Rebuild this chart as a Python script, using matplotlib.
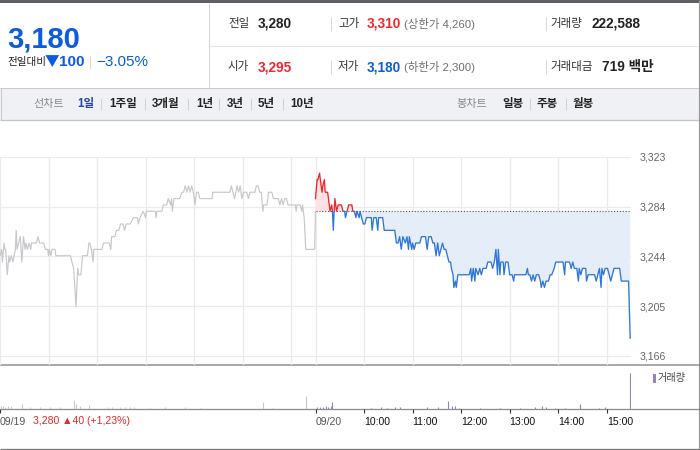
import matplotlib
matplotlib.use('Agg')
import matplotlib.pyplot as plt
from matplotlib.patches import Rectangle
from matplotlib import font_manager
import numpy as np

# ---------------- data ----------------
prev_close = 3280
price_now = "3,180"
change_abs = "100"
change_pct = "−3.05%"

# previous day (09/19), minutes after 09:00
prev_t = [0, 2, 3, 5, 6, 7, 9, 11, 12, 14,
          16, 19, 20, 21, 23, 25, 26, 27, 29, 31,
          32, 34, 36, 38, 39, 45, 47, 49, 54, 56,
          59, 60, 61, 63, 64, 68, 69, 80, 87, 89,
          91, 94, 96, 97, 100, 102, 108, 110, 111, 113,
          115, 116, 126, 128, 135, 137, 138, 142, 144, 147,
          149, 152, 154, 156, 161, 165, 170, 171, 173, 177,
          180, 181, 192, 193, 194, 200, 202, 206, 208, 211,
          212, 213, 215, 222, 225, 227, 229, 231, 233, 235,
          237, 239, 241, 243, 245, 247, 262, 263, 284, 286,
          288, 290, 293, 295, 297, 299, 301, 305, 307, 309,
          315, 317, 319, 321, 323, 325, 326, 330, 332, 336,
          338, 344, 346, 348, 350, 352, 354, 356, 365, 366,
          367, 371, 373, 374, 376, 378, 389, 390]
prev_p = [3245, 3250, 3240, 3255, 3250, 3250, 3230, 3245, 3240, 3245,
          3240, 3250, 3265, 3250, 3255, 3260, 3250, 3240, 3260, 3250,
          3255, 3250, 3255, 3250, 3255, 3255, 3260, 3255, 3255, 3250,
          3250, 3245, 3250, 3245, 3250, 3250, 3245, 3245, 3245, 3240,
          3235, 3205, 3235, 3230, 3230, 3245, 3245, 3255, 3255, 3250,
          3240, 3250, 3250, 3255, 3255, 3250, 3260, 3260, 3265, 3265,
          3270, 3270, 3265, 3270, 3270, 3275, 3275, 3270, 3275, 3280,
          3275, 3280, 3280, 3275, 3280, 3280, 3285, 3285, 3290, 3285,
          3290, 3280, 3290, 3290, 3295, 3295, 3300, 3295, 3300, 3295,
          3300, 3295, 3285, 3295, 3295, 3290, 3290, 3295, 3295, 3300,
          3295, 3290, 3300, 3295, 3300, 3290, 3295, 3295, 3290, 3295,
          3295, 3300, 3300, 3295, 3295, 3280, 3285, 3285, 3295, 3295,
          3290, 3290, 3285, 3290, 3285, 3290, 3290, 3285, 3285, 3280,
          3285, 3285, 3280, 3285, 3275, 3250, 3250, 3280]

# today (09/20), minutes after 09:00
today_t = [0, 2, 3, 5, 6, 8, 9, 11, 12, 15,
           17, 18, 20, 21, 22, 23, 24, 26, 28, 32,
           34, 36, 37, 39, 41, 45, 46, 48, 50, 51,
           54, 55, 57, 59, 61, 63, 69, 70, 72, 75,
           77, 78, 83, 84, 85, 98, 100, 102, 104, 106,
           108, 111, 113, 115, 116, 119, 120, 122, 124, 129,
           131, 136, 138, 140, 143, 145, 147, 149, 151, 153,
           155, 157, 159, 161, 163, 165, 167, 168, 170, 171,
           173, 174, 176, 190, 192, 193, 195, 197, 198, 201,
           203, 205, 207, 211, 213, 217, 219, 221, 223, 225,
           226, 228, 229, 232, 233, 235, 238, 240, 243, 245,
           246, 260, 262, 263, 265, 267, 269, 271, 273, 276,
           278, 279, 281, 283, 285, 288, 290, 292, 295, 297,
           306, 308, 309, 314, 316, 318, 320, 323, 325, 326,
           328, 330, 334, 335, 337, 345, 347, 349, 351, 353,
           354, 356, 358, 361, 363, 365, 369, 376, 378, 387,
           389]
today_p = [3290, 3305, 3305, 3310, 3305, 3295, 3300, 3305, 3295, 3295,
           3285, 3280, 3285, 3280, 3265, 3280, 3290, 3280, 3285, 3285,
           3280, 3280, 3275, 3280, 3285, 3285, 3280, 3280, 3275, 3280,
           3275, 3280, 3275, 3270, 3270, 3275, 3275, 3265, 3275, 3275,
           3265, 3275, 3275, 3270, 3265, 3265, 3255, 3255, 3260, 3250,
           3260, 3255, 3260, 3250, 3260, 3250, 3255, 3250, 3255, 3255,
           3260, 3260, 3250, 3260, 3260, 3255, 3255, 3245, 3255, 3245,
           3250, 3255, 3250, 3250, 3245, 3240, 3240, 3235, 3230, 3220,
           3225, 3220, 3230, 3230, 3235, 3225, 3235, 3225, 3235, 3230,
           3235, 3230, 3235, 3235, 3240, 3240, 3235, 3240, 3250, 3230,
           3250, 3230, 3240, 3240, 3230, 3240, 3240, 3230, 3230, 3225,
           3230, 3230, 3235, 3230, 3230, 3225, 3230, 3225, 3230, 3230,
           3225, 3220, 3225, 3220, 3225, 3225, 3230, 3230, 3235, 3240,
           3240, 3230, 3240, 3240, 3235, 3240, 3235, 3235, 3225, 3235,
           3230, 3235, 3235, 3225, 3230, 3230, 3225, 3230, 3235, 3220,
           3235, 3230, 3235, 3235, 3230, 3225, 3235, 3235, 3225, 3225,
           3180]

vol_prev_t = [1, 4, 6, 10, 14, 27, 37, 49, 62, 74, 91, 94, 99, 110, 133, 138,
              148, 154, 161, 166, 185, 204, 229, 247, 325, 336, 378]
vol_prev_v = [2500, 3000, 2000, 2500, 3000, 4700, 1500, 1500, 1500, 2000, 9000,
              4500, 2500, 3700, 2000, 1500, 2000, 1500, 2000, 1500, 1000, 2000,
              1500, 1000, 6700, 1000, 12700]
vol_today_t = [2, 5, 9, 13, 16, 19, 21, 68, 81, 88, 98, 104, 138, 151, 164, 169,
               172, 178, 203, 228, 253, 271, 280, 285, 296, 308, 327, 351, 358, 389]
vol_today_v = [2000, 1500, 1500, 2500, 1500, 2500, 6500, 1000, 2000, 1000, 1500,
               1500, 1500, 2000, 7300, 2500, 3000, 1000, 1000, 1000, 1000, 1500,
               3000, 1500, 1000, 1000, 4700, 1000, 1500, 36000]

y_ticks = [3166, 3205.25, 3244.5, 3283.75, 3323]
y_labels = ['3,166', '3,205', '3,244', '3,284', '3,323']
grid_minutes = [0, 60, 120, 180, 240, 300, 360, 390, 450, 510, 570, 630, 690, 750]
x_tick_minutes = [0, 390, 450, 510, 570, 630, 690, 750]
x_tick_labels = ['09/19', '09/20', '10:00', '11:00', '12:00', '13:00', '14:00', '15:00']
prev_day_note = "3,280 ▲40 (+1,23%)"

row1 = [("전일", None), ("3,280", 'k'), ("고가", None), ("3,310", 'r'),
        ("(상한가 4,260)", 'g'), ("거래량", None), ("222,588", 'k')]
row2 = [("시가", None), ("3,295", 'r'), ("저가", None), ("3,180", 'b'),
        ("(하한가 2,300)", 'g'), ("거래대금", None), ("719 백만", 'k')]
tabs_left = ['선차트', '1일', '1주일', '3개월', '1년', '3년', '5년', '10년']
tabs_right = ['봉차트', '일봉', '주봉', '월봉']

# ---------------- style ----------------
FAM = ['Liberation Sans', 'Noto Sans CJK KR', 'DejaVu Sans']
plt.rcParams['font.family'] = FAM
names = {f.name for f in font_manager.fontManager.ttflist}
BIG = (['Liberation Sans Narrow'] if 'Liberation Sans Narrow' in names else ['Liberation Sans']) + FAM[1:]
BIG_SIZE = 24 if 'Liberation Sans Narrow' in names else 21

RED = '#f0272b'
BLUE = '#0b5ddc'
LINE_BLUE = '#2f76da'
W, H = 700, 450
PX = 0.72  # points per pixel

fig = plt.figure(figsize=(7, 4.5), dpi=100)
bg = fig.add_axes([0, 0, 1, 1], zorder=0)
bg.set_xlim(0, W)
bg.set_ylim(H, 0)
bg.axis('off')


def hline(y, x0, x1, c, lw=1.0):
    bg.plot([x0, x1], [y, y], color=c, lw=lw * PX, solid_capstyle='butt')


def vline(x, y0, y1, c, lw=1.0):
    bg.plot([x, x], [y0, y1], color=c, lw=lw * PX, solid_capstyle='butt')


# header
bg.add_patch(Rectangle((0, 0), W, 3, color='#5f6065', lw=0))
vline(208.5, 3, 88, '#d4d4d4')
hline(45.5, 208, W, '#e4e4e4')
bg.text(7, 47, price_now, fontsize=BIG_SIZE, fontweight='bold', color=BLUE,
        family=BIG, va='baseline', ha='left')
bg.text(7, 62.5, "전일대비", fontsize=7.6, color='#222', va='center', ha='left')
bg.text(45, 62.5, "▼", fontsize=10.5, color=BLUE, va='center', ha='left',
        family=['Noto Sans CJK KR', 'DejaVu Sans'])
bg.text(59, 62.5, change_abs, fontsize=11, fontweight='bold', color=BLUE,
        va='center', ha='left')
vline(89.5, 56, 69, '#d8d8d8')
bg.text(96, 62.5, change_pct, fontsize=11, color=BLUE, va='center', ha='left')

col_x = [228, 258, 338, 367, 404, 550, 591]
colmap = {None: '#333333', 'k': '#222222', 'r': RED, 'b': BLUE, 'g': '#707070'}
for row, yy in ((row1, 24), (row2, 67)):
    for i, (s, c) in enumerate(row):
        x = col_x[i]
        if s.startswith('719'):
            x = 602
        weight = 'bold' if c in ('k', 'r', 'b') else 'normal'
        fs = 9.8 if c in ('k', 'r', 'b') else (8.3 if c is None else 8.2)
        bg.text(x, yy, s, fontsize=fs, fontweight=weight, color=colmap[c],
                va='center', ha='left')
    vline(330.5, yy - 7, yy + 7, '#d8d8d8')
    vline(545.5, yy - 7, yy + 7, '#d8d8d8')

# tab bar
bg.add_patch(Rectangle((0, 88), W, 31.5, color='#eff1f5', lw=0))
hline(88, 0, W, '#c9c9c9')
hline(119.5, 0, W, '#c6c6c6', 1.3)
vline(0.5, 88, 120, '#c9c9c9')
tab_x = [33, 77, 109, 152, 196, 227, 258, 290]
sep_x = [101, 144.5, 187.5, 219, 251, 283]
for s, x in zip(tabs_left, tab_x):
    if s == '선차트':
        bg.text(x, 103.5, s, fontsize=8, color='#888888', va='center', ha='left')
    elif s == '1일':
        bg.text(x, 103.5, s, fontsize=8.3, color='#27449f', fontweight='bold',
                va='center', ha='left')
    else:
        bg.text(x, 103.5, s, fontsize=8.3, color='#222222', fontweight='bold',
                va='center', ha='left')
for x in sep_x:
    vline(x, 98, 110, '#cfd1d6')
rtab_x = [456, 502, 537, 573]
for s, x in zip(tabs_right, rtab_x):
    if s == '봉차트':
        bg.text(x, 103.5, s, fontsize=8, color='#888888', va='center', ha='left')
    else:
        bg.text(x, 103.5, s, fontsize=8.3, color='#222222', fontweight='bold',
                va='center', ha='left')
for x in (529.5, 565.5):
    vline(x, 98, 110, '#cfd1d6')

# frame lines of chart region
vline(699.3, 0, H, '#9a9a9a', 1.2)
hline(365, 0, W, '#8e8e8e', 1.5)
hline(408.5, 0, W, '#8e8e8e', 1.3)
hline(449, 0, W, '#7a7a7a', 1.3)

# ---------------- price axes ----------------
top_px, tick_bottom_px, ax_bottom_px, right_px = 156.7, 356.0, 365.0, 631.0
ppw = (tick_bottom_px - top_px) / (y_ticks[-1] - y_ticks[0])
ax = fig.add_axes([0, 1 - ax_bottom_px / H, right_px / W, (ax_bottom_px - top_px) / H],
                  zorder=2)
ax.set_facecolor('none')
ax.set_xlim(0, 780)
ax.set_ylim(y_ticks[0] - (ax_bottom_px - tick_bottom_px) / ppw, y_ticks[-1])
for s in ax.spines.values():
    s.set_visible(False)
ax.set_xticks(grid_minutes)
ax.set_yticks(y_ticks)
ax.set_yticklabels(y_labels)
ax.yaxis.tick_right()
ax.tick_params(axis='both', length=0, labelbottom=False, labelleft=False,
               labelright=True, labelsize=7.6, labelcolor='#666666', pad=6.5)
ax.grid(True, color='#ebebed', lw=0.9)
ax.set_axisbelow(True)

tp = np.array(prev_t, dtype=float)
pp = np.array(prev_p, dtype=float)
tt = np.array(today_t, dtype=float) + 390
pt = np.array(today_p, dtype=float)

ax.plot(tp, pp, color='#c7c8cc', lw=0.85, zorder=3)
ax.fill_between(tt, pt, prev_close, where=pt >= prev_close, interpolate=True,
                color='#fde2e3', lw=0, zorder=2)
ax.fill_between(tt, pt, prev_close, where=pt <= prev_close, interpolate=True,
                color='#e5edf9', lw=0, zorder=2)
ax.hlines(prev_close, 390, 780, colors='#555555', linestyles=(0, (1, 1.6)),
          lw=0.8, zorder=4)
l_up, = ax.plot(tt, pt, color=RED, lw=0.95, zorder=5)
l_dn, = ax.plot(tt, pt, color=LINE_BLUE, lw=0.95, zorder=5)
l_up.set_clip_path(Rectangle((380, prev_close), 420, 200, transform=ax.transData))
l_dn.set_clip_path(Rectangle((380, prev_close - 300), 420, 300, transform=ax.transData))

# ---------------- volume axes ----------------
vol_bottom_px = 408.5
av = fig.add_axes([0, 1 - vol_bottom_px / H, right_px / W, (vol_bottom_px - ax_bottom_px) / H],
                  zorder=2)
av.set_facecolor('none')
av.set_xlim(0, 780)
av.set_ylim(0, 43500)
for s in av.spines.values():
    s.set_visible(False)
av.vlines(vol_prev_t, 0, vol_prev_v, colors='#c8c8cc', lw=0.8)
av.vlines(np.array(vol_today_t) + 390, 0, vol_today_v, colors='#9680c6', lw=0.8)
av.set_yticks([])
av.set_xticks(x_tick_minutes)
av.set_xticklabels(x_tick_labels)
av.tick_params(axis='x', direction='out', length=3, width=0.8, color='#333333',
               pad=3.2, labelsize=7.6)
for i, lab in enumerate(av.get_xticklabels()):
    lab.set_ha('left')
    lab.set_color('#555555' if i < 2 else '#111111')

bg.text(33, 421.5, prev_day_note, fontsize=7.6, color='#e8262a', va='center', ha='left')
bg.add_patch(Rectangle((653, 374), 2.5, 8.5, color='#9680c6', lw=0))
bg.text(658, 378.5, "거래량", fontsize=7.3, color='#444444', va='center', ha='left')

fig.savefig('out.png', dpi=100)
